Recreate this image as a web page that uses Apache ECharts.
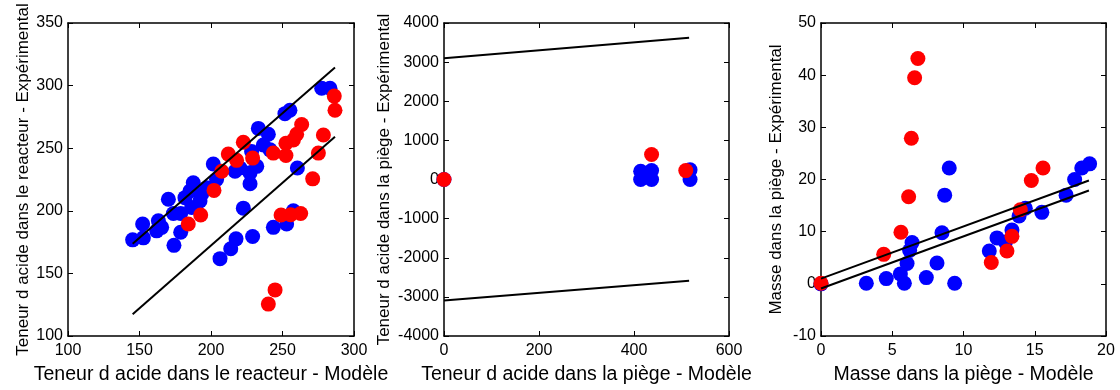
<!DOCTYPE html>
<html><head><meta charset="utf-8">
<script src="https://cdn.jsdelivr.net/npm/echarts@6/dist/echarts.min.js"></script>
<style>html,body{margin:0;padding:0;background:#fff}#c{width:1120px;height:390px}</style>
</head><body><div id="c"></div>
<script>
// Panel 1: Teneur d acide dans le reacteur
const p1Blue = [[145.2,176.8],[152.2,189.5],[152.7,178.4],[163.2,192],[162,184],[165.5,186.8],[170.2,209.2],[173.7,197.9],[174.1,172.4],[178.8,197.9],[178.8,182.9],[181.8,210.5],[185.3,215.8],[187.6,222.4],[186.5,202.6],[192.3,207.9],[193.5,213.2],[197,218.4],[201.6,237.4],[203.9,225],[206.3,161.8],[213.8,169.7],[217.5,177.6],[216.8,231.6],[220.3,234.2],[222.6,202.1],[227.3,230.3],[227.3,221.6],[228.4,247.4],[232,235.5],[229.1,179.5],[233.1,265.8],[236.6,252.6],[240.1,261.1],[241.3,248.7],[243.6,186.8],[251.7,277.6],[255.2,280.3],[252.9,189.5],[257.6,200],[260.4,234.2],[277.4,297.9],[283.2,297.9]];
const p1Red = [[184.1,189.5],[192.8,196.6],[202.1,216.3],[207.5,231.6],[212.1,245.3],[217.9,240.3],[222.6,254.7],[229.1,242.1],[240.1,125.5],[244.8,136.8],[243.6,246.1],[249,196.6],[252.4,254],[252.4,244.2],[255.7,196.8],[257.6,256.6],[259.9,261.1],[262.7,197.9],[263.4,268.9],[271.1,225.5],[275.1,246.1],[278.6,260.5],[286.2,291.6],[286.7,280.3]];
const p1Upper = [[145.2,173.6],[286.7,314.5]];
const p1Lower = [[145.2,117.3],[286.7,259.2]];

// Panel 2: Teneur d acide dans la piège
const p2Blue = [[0,0],[414,210],[414,0],[437,227],[437,0],[425,120],[518,250],[518,0]];
const p2Red = [[0,0],[437,640],[509,227]];
const p2Upper = [[0,3100],[516,3620]];
const p2Lower = [[0,-3095],[516,-2585]];

// Panel 3: Masse dans la piège
const p3Blue = [[0,0],[3.18,0.1],[4.58,1.0],[5.57,1.9],[5.85,0.1],[6.04,3.9],[6.22,6.4],[6.39,7.9],[7.39,1.2],[8.14,4.0],[8.49,9.8],[8.68,17.0],[9.0,22.2],[9.38,0.1],[11.81,6.3],[12.35,8.8],[12.94,8.0],[13.4,10.3],[13.9,13.0],[14.34,14.5],[15.5,13.7],[17.2,17.0],[17.8,20.0],[18.3,22.2],[18.85,23.0]];
const p3Red = [[0,0.1],[4.4,5.65],[5.61,9.9],[6.15,16.7],[6.34,27.9],[6.57,39.5],[6.8,43.2],[11.95,4.1],[13.05,6.3],[13.4,9.1],[13.99,14.2],[14.76,19.8],[15.58,22.2]];
const p3Upper = [[0,1.0],[18.8,19.8]];
const p3Lower = [[0,-0.9],[18.8,17.9]];

const xTitles = ['Teneur d acide dans le reacteur - Modèle','Teneur d acide dans la piège - Modèle','Masse dans la piège - Modèle'];
const yTitles = ['Teneur d acide dans le reacteur - Expérimental','Teneur d acide dans la piège - Expérimental','Masse dans la piège - Expérimental'];
const xRanges = [[100,300,50],[0,600,200],[0,20,5]];
const yRanges = [[100,350,50],[-4000,4000,1000],[-10,50,10]];
const yNameGaps = [36,51,36];

const FONT = 'Liberation Sans, Arial, sans-serif';
const grids = [
  {left:68, top:23, width:286, height:317},
  {left:444, top:23, width:285, height:317},
  {left:821, top:23, width:285, height:317}
];
const fmt = v => String(v);
const xAxis = [], yAxis = [], series = [];
const lineStyleAxis = {color:'#000', width:1.5};
grids.forEach((g,i)=>{
  const xr = xRanges[i], yr = yRanges[i];
  xAxis.push({gridIndex:i, type:'value', min:xr[0], max:xr[1], interval:xr[2], position:'bottom',
    axisLine:{onZero:false, lineStyle:lineStyleAxis}, axisTick:{inside:true, length:5, lineStyle:{color:'#000'}},
    axisLabel:{color:'#000', fontSize:16, fontFamily:FONT, margin:7, formatter:fmt}, splitLine:{show:false},
    name:xTitles[i], nameLocation:'middle', nameGap:29, nameTextStyle:{color:'#000', fontSize:19.5, fontFamily:FONT}});
  xAxis.push({gridIndex:i, type:'value', min:xr[0], max:xr[1], interval:xr[2], position:'top',
    axisLine:{onZero:false, lineStyle:lineStyleAxis}, axisTick:{inside:true, length:5, lineStyle:{color:'#000'}},
    axisLabel:{show:false}, splitLine:{show:false}});
  yAxis.push({gridIndex:i, type:'value', min:yr[0], max:yr[1], interval:yr[2], position:'left',
    axisLine:{onZero:false, lineStyle:lineStyleAxis}, axisTick:{inside:true, length:5, lineStyle:{color:'#000'}},
    axisLabel:{color:'#000', fontSize:16, fontFamily:FONT, margin:5, formatter:fmt}, splitLine:{show:false},
    name:yTitles[i], nameLocation:'middle', nameGap:yNameGaps[i], nameTextStyle:{color:'#000', fontSize:17, fontFamily:FONT}});
  yAxis.push({gridIndex:i, type:'value', min:yr[0], max:yr[1], interval:yr[2], position:'right',
    axisLine:{onZero:false, lineStyle:lineStyleAxis}, axisTick:{inside:true, length:5, lineStyle:{color:'#000'}},
    axisLabel:{show:false}, splitLine:{show:false}});
});
const panels = [[p1Blue,p1Red,p1Upper,p1Lower],[p2Blue,p2Red,p2Upper,p2Lower],[p3Blue,p3Red,p3Upper,p3Lower]];
panels.forEach((p,i)=>{
  const xi = i*2, yi = i*2;
  series.push({type:'scatter', xAxisIndex:xi, yAxisIndex:yi, data:p[0], symbolSize:15, itemStyle:{color:'#0000ff', opacity:1}, silent:true, z:2});
  series.push({type:'scatter', xAxisIndex:xi, yAxisIndex:yi, data:p[1], symbolSize:15, itemStyle:{color:'#ff0000', opacity:1}, silent:true, z:3});
  series.push({type:'line', xAxisIndex:xi, yAxisIndex:yi, data:p[2], symbol:'none', lineStyle:{color:'#000', width:2}, silent:true, z:4});
  series.push({type:'line', xAxisIndex:xi, yAxisIndex:yi, data:p[3], symbol:'none', lineStyle:{color:'#000', width:2}, silent:true, z:4});
});
const chart = echarts.init(document.getElementById('c'), null, {renderer:'canvas'});
chart.setOption({animation:false, backgroundColor:'#fff', grid:grids, xAxis, yAxis, series});
</script></body></html>
